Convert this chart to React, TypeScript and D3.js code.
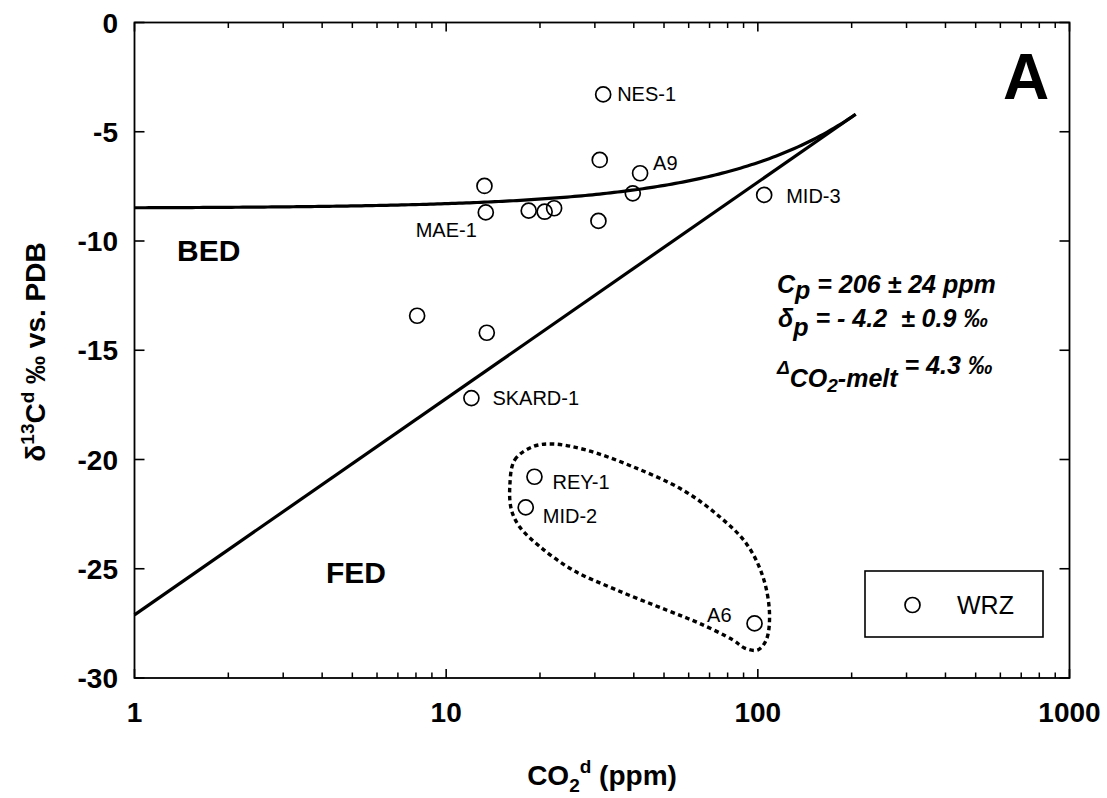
import React from "react";
import * as d3 from "d3";

// ---- data ----
const sampleNames = [
  "NES-1", "", "A9", "", "", "MID-3", "MAE-1", "", "", "", "", "", "", "SKARD-1", "REY-1", "MID-2", "A6",
];
const co2Values = [31.9, 31.1, 41.9, 13.27, 39.7, 104.8, 13.4, 18.4, 20.7, 22.2, 30.8, 8.07, 13.5, 12.05, 19.2, 18.0, 97.6];
const d13cValues = [-3.29, -6.29, -6.9, -7.48, -7.82, -7.89, -8.69, -8.61, -8.66, -8.5, -9.08, -13.42, -14.2, -17.19, -20.79, -22.19, -27.5];

// dashed envelope around the low-δ group (CO2 ppm, δ13C)
const envelopeCO2 = [16.0, 16.6, 19.0, 22.0, 28.2, 39.7, 57.5, 75.4, 91.8, 103.8, 109.0, 106.4, 99.8, 90.7, 83.2, 65.0, 50.9, 35.2, 25.5, 20.0, 17.2, 16.2];
const envelopeD13C = [-21.25, -20.02, -19.41, -19.29, -19.57, -20.33, -21.4, -22.62, -23.84, -25.36, -27.04, -28.26, -28.72, -28.63, -28.26, -27.5, -26.89, -25.97, -25.06, -23.99, -23.08, -22.31];

// degassing model parameters
const Cp = 206;
const deltaP = -4.2;
const deltaCO2Melt = 4.3;

const yTicks = [0, -5, -10, -15, -20, -25, -30];
const xDecades = [1, 10, 100, 1000];
const minorSteps = [2, 3, 4, 5, 6, 7, 8, 9];
const xTickLabels = ["1", "10", "100", "1000"];

// label placement relative to each point: [dx, dy, anchor]
const labelOffsets: Record<string, [number, number, string]> = {
  "NES-1": [14, 7, "start"],
  A9: [13, -3, "start"],
  "MID-3": [22, 8, "start"],
  "MAE-1": [-9, 25, "end"],
  "SKARD-1": [21, 7, "start"],
  "REY-1": [18, 12, "start"],
  "MID-2": [17, 16, "start"],
  A6: [-23, -1, "end"],
};

const FONT = "'Liberation Sans', Arial, Helvetica, sans-serif";

export default function App() {
  const W = 1107;
  const H = 798;
  const left = 134.5, right = 1069.5, top = 22.5, bottom = 678;

  const x = d3.scaleLog().domain([1, 1000]).range([left, right]);
  const y = d3.scaleLinear().domain([-30, 0]).range([bottom, top]);

  // model curves evaluated along log-spaced CO2 contents up to Cp
  const cs = d3.range(0, Math.log10(Cp) + 1e-9, Math.log10(Cp) / 200).map((e) => Math.pow(10, e));
  cs[cs.length - 1] = Cp;
  const bed = cs.map((c) => [c, deltaP - deltaCO2Melt * (1 - c / Cp)] as [number, number]);
  const fed = [1, Cp].map((c) => [c, deltaP + deltaCO2Melt * Math.log(c / Cp)] as [number, number]);

  const line = d3
    .line<[number, number]>()
    .x((d) => x(d[0]))
    .y((d) => y(d[1]));

  const envelope = d3
    .line<[number, number]>()
    .x((d) => x(d[0]))
    .y((d) => y(d[1]))
    .curve(d3.curveCatmullRomClosed.alpha(0.5));
  const envPts = envelopeCO2.map((c, i) => [c, envelopeD13C[i]] as [number, number]);

  const minorTicks: number[] = [];
  xDecades.slice(0, -1).forEach((d) => minorSteps.forEach((m) => minorTicks.push(d * m)));

  const points = co2Values.map((c, i) => ({ c, d: d13cValues[i], name: sampleNames[i] }));

  return (
    <svg
      width={W}
      height={H}
      style={{ position: "absolute", left: 0, top: 0, display: "block", background: "#fff" }}
      fontFamily={FONT}
    >
      {/* frame */}
      <rect x={left} y={top} width={right - left} height={bottom - top} fill="none" stroke="#000" strokeWidth={1.8} />

      {/* y ticks on both sides */}
      {yTicks.map((t) => (
        <g key={"y" + t}>
          <line x1={left} x2={left + 10} y1={y(t)} y2={y(t)} stroke="#000" strokeWidth={1.6} />
          <line x1={right} x2={right - 10} y1={y(t)} y2={y(t)} stroke="#000" strokeWidth={1.6} />
          <text x={118} y={y(t) + 10} textAnchor="end" fontSize={28} fontWeight="bold">
            {t}
          </text>
        </g>
      ))}

      {/* x ticks on bottom and top */}
      {xDecades.map((t, i) => (
        <g key={"x" + t}>
          <line x1={x(t)} x2={x(t)} y1={bottom} y2={bottom - 9} stroke="#000" strokeWidth={1.6} />
          <line x1={x(t)} x2={x(t)} y1={top} y2={top + 9} stroke="#000" strokeWidth={1.6} />
          <text x={x(t)} y={722} textAnchor="middle" fontSize={28} fontWeight="bold">
            {xTickLabels[i]}
          </text>
        </g>
      ))}
      {minorTicks.map((t) => (
        <g key={"m" + t}>
          <line x1={x(t)} x2={x(t)} y1={bottom} y2={bottom - 5.5} stroke="#000" strokeWidth={1.5} />
          <line x1={x(t)} x2={x(t)} y1={top} y2={top + 5.5} stroke="#000" strokeWidth={1.5} />
        </g>
      ))}

      {/* axis titles */}
      <text x={602} y={785} textAnchor="middle" fontSize={28} fontWeight="bold">
        CO<tspan fontSize={19} dy={7}>2</tspan>
        <tspan fontSize={19} dy={-19}>d</tspan>
        <tspan dy={12}> (ppm)</tspan>
      </text>
      <text transform="translate(45,352) rotate(-90)" textAnchor="middle" fontSize={28} fontWeight="bold">
        δ<tspan fontSize={19} dy={-11}>13</tspan>
        <tspan dy={11}>C</tspan>
        <tspan fontSize={19} dy={-11}>d</tspan>
        <tspan dy={11}> ‰ vs. PDB</tspan>
      </text>

      {/* model curves */}
      <path d={line(bed) || ""} fill="none" stroke="#000" strokeWidth={3.2} />
      <path d={line(fed) || ""} fill="none" stroke="#000" strokeWidth={3.2} />

      {/* envelope */}
      <path d={envelope(envPts) || ""} fill="none" stroke="#000" strokeWidth={3.4} strokeDasharray="4.5 3.5" />

      {/* points */}
      {points.map((p, i) => (
        <circle key={"p" + i} cx={x(p.c)} cy={y(p.d)} r={7.5} fill="none" stroke="#000" strokeWidth={1.7} />
      ))}
      {points
        .filter((p) => p.name)
        .map((p) => {
          const [dx, dy, anchor] = labelOffsets[p.name];
          return (
            <text key={"l" + p.name} x={x(p.c) + dx} y={y(p.d) + dy} textAnchor={anchor as any} fontSize={20}>
              {p.name}
            </text>
          );
        })}

      {/* region labels */}
      <text x={177} y={261} fontSize={30} fontWeight="bold">BED</text>
      <text x={326} y={583} fontSize={30} fontWeight="bold">FED</text>
      <text x={1026} y={99} textAnchor="middle" fontSize={64} fontWeight="bold">A</text>

      {/* model parameters */}
      <g fontSize={25} fontWeight="bold" fontStyle="italic">
        <text x={777} y={293} xmlSpace="preserve">
          C<tspan dy={6}>p</tspan>
          <tspan dy={-6}>{" = 206 ± 24 ppm"}</tspan>
        </text>
        <text x={778} y={327} xmlSpace="preserve">
          δ<tspan dy={9}>p</tspan>
          <tspan dy={-9}>{" = - 4.2 \u00a0± 0.9 ‰"}</tspan>
        </text>
        <text x={777} y={374} xmlSpace="preserve">
          <tspan fontSize={19}>Δ</tspan>
          <tspan dy={13}>CO</tspan>
          <tspan dy={5} fontSize={19}>2</tspan>
          <tspan dy={-5}>-melt</tspan>
          <tspan dy={-13}>{" = 4.3 ‰"}</tspan>
        </text>
      </g>

      {/* legend */}
      <rect x={865} y={571} width={178} height={66} fill="#fff" stroke="#000" strokeWidth={1.6} />
      <circle cx={912.5} cy={605} r={7.5} fill="none" stroke="#000" strokeWidth={1.7} />
      <text x={957} y={613.5} fontSize={25}>WRZ</text>
    </svg>
  );
}
